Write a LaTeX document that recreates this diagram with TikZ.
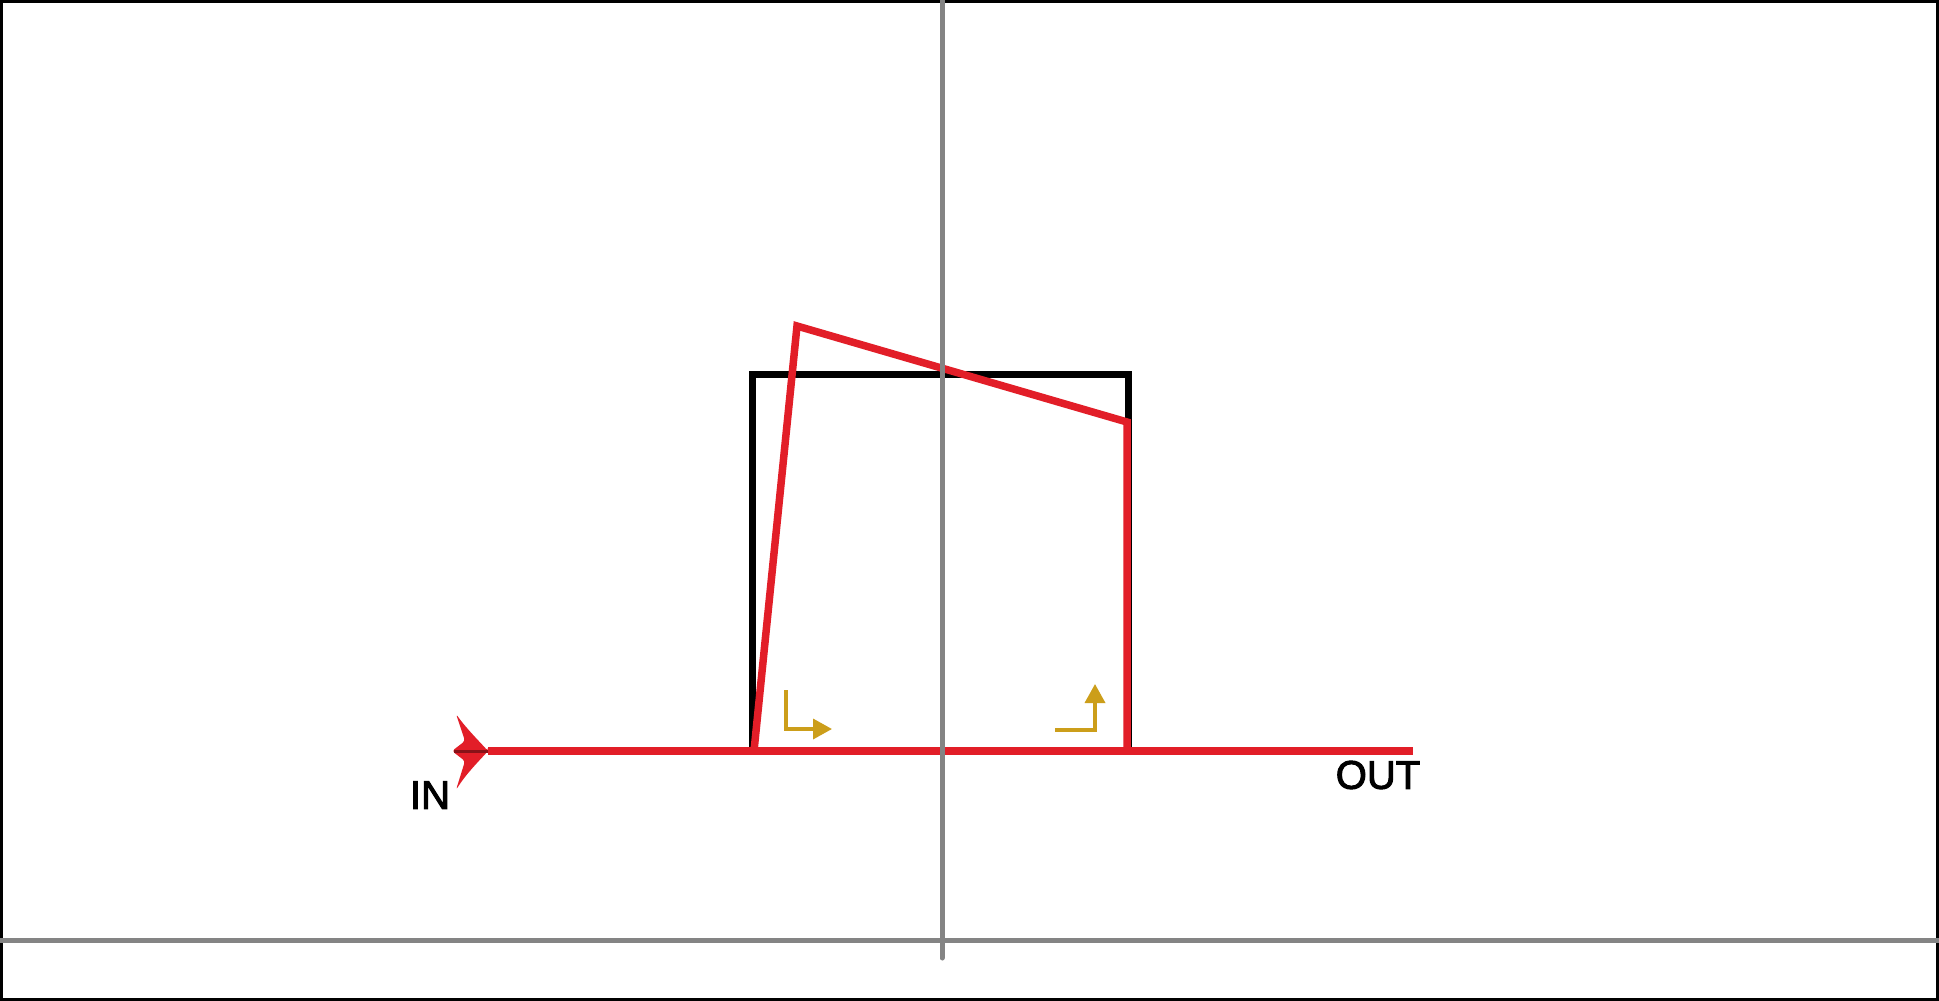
\documentclass[tikz,border=0pt]{standalone}
\usepackage{fontspec}
\setmainfont{Liberation Sans}
\newfontfamily\lblfont{Liberation Sans}[FakeBold=2.5]
\usetikzlibrary{arrows.meta}
\definecolor{myred}{RGB}{226,30,40}
\definecolor{mygold}{RGB}{204,158,26}
\definecolor{mygray}{RGB}{132,132,132}
\tikzset{
  redline/.style={draw=myred, line width=7.5pt, line join=miter},
  blackline/.style={draw=black, line width=7pt, line join=miter},
  grayline/.style={draw=mygray, line width=5pt},
  goldarrow/.style={draw=mygold, line width=3.5pt, -{Triangle[length=19pt,width=20pt]}},
  lbl/.style={font=\lblfont\fontsize{40}{48}\selectfont, inner sep=0pt, text=black}
}
\begin{document}
\begin{tikzpicture}[x=1pt,y=-1pt]
\useasboundingbox (0,0) rectangle (1939,1001);
\fill[white] (0,0) rectangle (1939,1001);
\draw[line width=3pt] (1.5,1.5) rectangle (1937.5,999.5);
% coordinates
\coordinate (tip) at (488,751);
\coordinate (endout) at (1413,751);
\coordinate (bl) at (752,751);
\coordinate (tl) at (752,374);
\coordinate (tr) at (1128,374);
\coordinate (br) at (1128,751);
\coordinate (rb) at (754,751);
\coordinate (rt) at (797,326);
\coordinate (rr) at (1127,422);
\coordinate (rbr) at (1127,751);
% black square
\draw[blackline] (bl) -- (tl) -- (tr) -- (br);
% red shapes
\draw[redline] (rb) -- (rt) -- (rr) -- (rbr);
\draw[draw=myred, line width=7.5pt] (tip) -- (endout);
% input arrow head
\fill[myred, rounded corners=3pt] (tip) .. controls (478,740) and (466,728) .. (456,714)
  -- (465,741) -- (452,751) -- (465,761)
  -- (456,790) .. controls (466,774) and (478,762) .. (tip) -- cycle;
\draw[myred!60!black, line width=3pt] (454,751) -- (tip);
% gold arrows
\coordinate (ga1) at (786,690);
\coordinate (ga2) at (786,729);
\coordinate (ga3) at (832,729);
\draw[goldarrow] (ga1) -- (ga2) -- (ga3);
\coordinate (gb1) at (1055,730);
\coordinate (gb2) at (1095,730);
\coordinate (gb3) at (1095,684);
\draw[goldarrow] (gb1) -- (gb2) -- (gb3);
% labels
\node[lbl] (in) at (430,795) {IN};
\node[lbl] (out) at (1378,775) {OUT};
% gray axes
\coordinate (vt) at (942,0);
\coordinate (vb) at (942,958);
\coordinate (hl) at (0,940);
\coordinate (hr) at (1939,940);
\draw[grayline] (hl) -- (hr);
\draw[grayline, line cap=round] (vt) -- (vb);
\end{tikzpicture}
\end{document}
